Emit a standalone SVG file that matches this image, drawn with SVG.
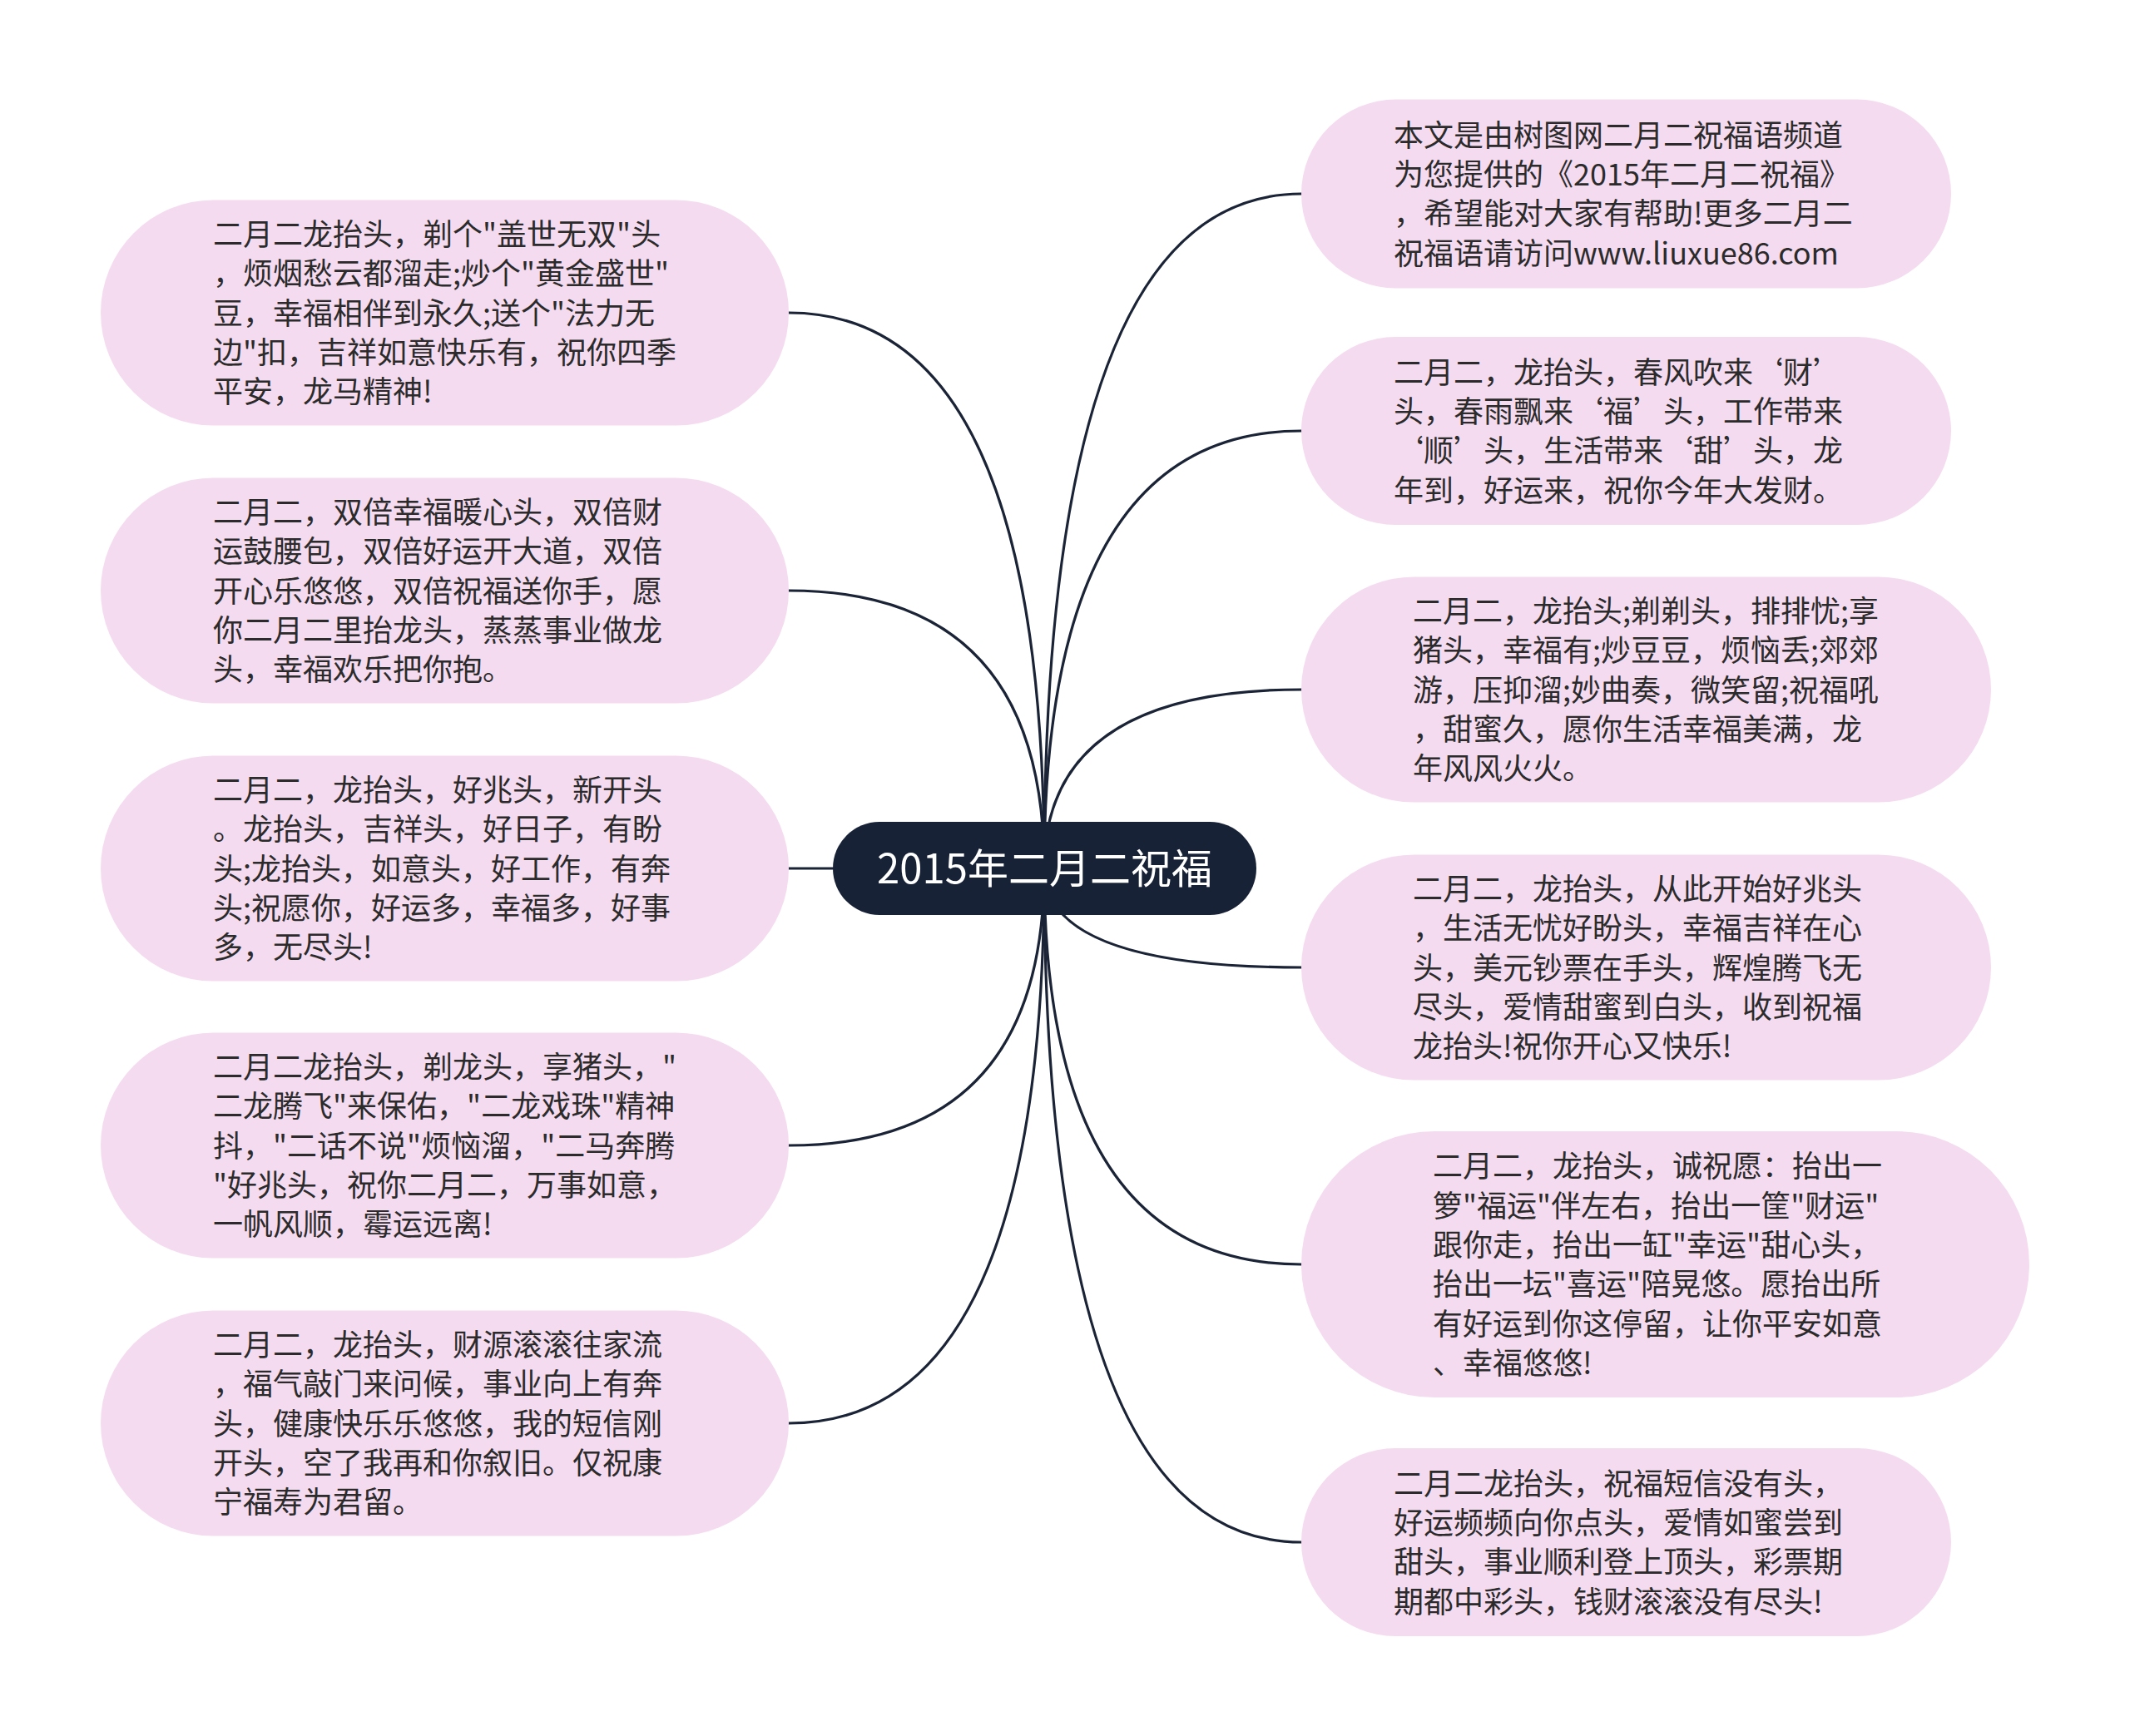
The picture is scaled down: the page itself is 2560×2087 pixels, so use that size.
<svg xmlns="http://www.w3.org/2000/svg" width="2560" height="2087" viewBox="0 0 2560 2087">
<style>
.node rect{fill:#f5dbf0;}
.node text{font-family:"Noto Sans CJK SC","Noto Sans",sans-serif;font-size:36px;fill:#2b2b2b;}
.root rect{fill:#172236;}
.root text{font-family:"Noto Sans CJK SC","Noto Sans",sans-serif;font-size:49px;fill:#ffffff;}
.conn path{fill:none;stroke:#1a2436;stroke-width:3.2;stroke-linecap:round;}
</style>
<rect width="2560" height="2087" fill="#ffffff"/>
<g id="connectors" class="conn">
<path d="M1255,1044 Q1255,376 948,376"/>
<path d="M1255,1044 Q1255,710 948,710"/>
<path d="M1001,1044 L948,1044"/>
<path d="M1255,1044 Q1255,1377 948,1377"/>
<path d="M1255,1044 Q1255,1711 948,1711"/>
<path d="M1255,1044 Q1255,233 1564,233"/>
<path d="M1255,1044 Q1255,518 1564,518"/>
<path d="M1255,1044 Q1255,829 1564,829"/>
<path d="M1255,1044 Q1255,1163 1564,1163"/>
<path d="M1255,1044 Q1255,1520 1564,1520"/>
<path d="M1255,1044 Q1255,1854 1564,1854"/>
</g>
<g id="root" class="root">
<rect x="1001" y="988" width="509" height="112" rx="56"/>
<text x="1255.5" y="1062" text-anchor="middle">2015年二月二祝福</text>
</g>
<g id="L1" class="node">
<rect x="121" y="240.5" width="827" height="271" rx="135.5"/>
<text x="256" y="295.1"><tspan x="256">二月二龙抬头，剃个"盖世无双"头</tspan><tspan x="256" dy="47.3">，烦烟愁云都溜走;炒个"黄金盛世"</tspan><tspan x="256" dy="47.3">豆，幸福相伴到永久;送个"法力无</tspan><tspan x="256" dy="47.3">边"扣，吉祥如意快乐有，祝你四季</tspan><tspan x="256" dy="47.3">平安，龙马精神!</tspan></text>
</g>
<g id="L2" class="node">
<rect x="121" y="574.5" width="827" height="271" rx="135.5"/>
<text x="256" y="629.1"><tspan x="256">二月二，双倍幸福暖心头，双倍财</tspan><tspan x="256" dy="47.3">运鼓腰包，双倍好运开大道，双倍</tspan><tspan x="256" dy="47.3">开心乐悠悠，双倍祝福送你手，愿</tspan><tspan x="256" dy="47.3">你二月二里抬龙头，蒸蒸事业做龙</tspan><tspan x="256" dy="47.3">头，幸福欢乐把你抱。</tspan></text>
</g>
<g id="L3" class="node">
<rect x="121" y="908.5" width="827" height="271" rx="135.5"/>
<text x="256" y="963.1"><tspan x="256">二月二，龙抬头，好兆头，新开头</tspan><tspan x="256" dy="47.3">。龙抬头，吉祥头，好日子，有盼</tspan><tspan x="256" dy="47.3">头;龙抬头，如意头，好工作，有奔</tspan><tspan x="256" dy="47.3">头;祝愿你，好运多，幸福多，好事</tspan><tspan x="256" dy="47.3">多，无尽头!</tspan></text>
</g>
<g id="L4" class="node">
<rect x="121" y="1241.5" width="827" height="271" rx="135.5"/>
<text x="256" y="1296.1"><tspan x="256">二月二龙抬头，剃龙头，享猪头，"</tspan><tspan x="256" dy="47.3">二龙腾飞"来保佑，"二龙戏珠"精神</tspan><tspan x="256" dy="47.3">抖，"二话不说"烦恼溜，"二马奔腾</tspan><tspan x="256" dy="47.3">"好兆头，祝你二月二，万事如意，</tspan><tspan x="256" dy="47.3">一帆风顺，霉运远离!</tspan></text>
</g>
<g id="L5" class="node">
<rect x="121" y="1575.5" width="827" height="271" rx="135.5"/>
<text x="256" y="1630.1"><tspan x="256">二月二，龙抬头，财源滚滚往家流</tspan><tspan x="256" dy="47.3">，福气敲门来问候，事业向上有奔</tspan><tspan x="256" dy="47.3">头，健康快乐乐悠悠，我的短信刚</tspan><tspan x="256" dy="47.3">开头，空了我再和你叙旧。仅祝康</tspan><tspan x="256" dy="47.3">宁福寿为君留。</tspan></text>
</g>
<g id="R1" class="node">
<rect x="1564" y="119.5" width="781" height="227" rx="113.5"/>
<text x="1675" y="175.7"><tspan x="1675">本文是由树图网二月二祝福语频道</tspan><tspan x="1675" dy="47.3">为您提供的《2015年二月二祝福》</tspan><tspan x="1675" dy="47.3">，希望能对大家有帮助!更多二月二</tspan><tspan x="1675" dy="47.3">祝福语请访问www.liuxue86.com</tspan></text>
</g>
<g id="R2" class="node">
<rect x="1564" y="405" width="781" height="226" rx="113"/>
<text x="1675" y="460.7"><tspan x="1675">二月二，龙抬头，春风吹来‘财’</tspan><tspan x="1675" dy="47.3">头，春雨飘来‘福’头，工作带来</tspan><tspan x="1675" dy="47.3">‘顺’头，生活带来‘甜’头，龙</tspan><tspan x="1675" dy="47.3">年到，好运来，祝你今年大发财。</tspan></text>
</g>
<g id="R3" class="node">
<rect x="1564" y="693.5" width="829" height="271" rx="135.5"/>
<text x="1698" y="748.1"><tspan x="1698">二月二，龙抬头;剃剃头，排排忧;享</tspan><tspan x="1698" dy="47.3">猪头，幸福有;炒豆豆，烦恼丢;郊郊</tspan><tspan x="1698" dy="47.3">游，压抑溜;妙曲奏，微笑留;祝福吼</tspan><tspan x="1698" dy="47.3">，甜蜜久，愿你生活幸福美满，龙</tspan><tspan x="1698" dy="47.3">年风风火火。</tspan></text>
</g>
<g id="R4" class="node">
<rect x="1564" y="1027.5" width="829" height="271" rx="135.5"/>
<text x="1698" y="1082.1"><tspan x="1698">二月二，龙抬头，从此开始好兆头</tspan><tspan x="1698" dy="47.3">，生活无忧好盼头，幸福吉祥在心</tspan><tspan x="1698" dy="47.3">头，美元钞票在手头，辉煌腾飞无</tspan><tspan x="1698" dy="47.3">尽头，爱情甜蜜到白头，收到祝福</tspan><tspan x="1698" dy="47.3">龙抬头!祝你开心又快乐!</tspan></text>
</g>
<g id="R5" class="node">
<rect x="1564" y="1360" width="875" height="320" rx="160"/>
<text x="1722" y="1415.4"><tspan x="1722">二月二，龙抬头，诚祝愿：抬出一</tspan><tspan x="1722" dy="47.3">箩"福运"伴左右，抬出一筐"财运"</tspan><tspan x="1722" dy="47.3">跟你走，抬出一缸"幸运"甜心头，</tspan><tspan x="1722" dy="47.3">抬出一坛"喜运"陪晃悠。愿抬出所</tspan><tspan x="1722" dy="47.3">有好运到你这停留，让你平安如意</tspan><tspan x="1722" dy="47.3">、幸福悠悠!</tspan></text>
</g>
<g id="R6" class="node">
<rect x="1564" y="1741" width="781" height="226" rx="113"/>
<text x="1675" y="1796.7"><tspan x="1675">二月二龙抬头，祝福短信没有头，</tspan><tspan x="1675" dy="47.3">好运频频向你点头，爱情如蜜尝到</tspan><tspan x="1675" dy="47.3">甜头，事业顺利登上顶头，彩票期</tspan><tspan x="1675" dy="47.3">期都中彩头，钱财滚滚没有尽头!</tspan></text>
</g>
</svg>
